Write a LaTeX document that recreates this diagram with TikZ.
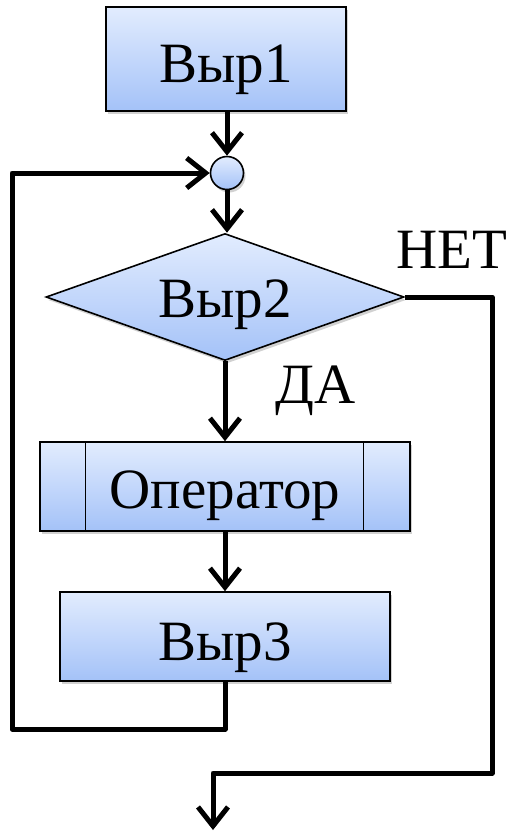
\documentclass[tikz,border=0pt]{standalone}
\usepackage{fontspec}
\setmainfont{Liberation Serif}
\usetikzlibrary{shapes.geometric,arrows.meta,shadows}
\definecolor{boxtop}{HTML}{E2ECFE}
\definecolor{boxbot}{HTML}{A4C2F8}
\tikzset{
  shade/.style={draw=black, line width=1.6pt, top color=boxtop, bottom color=boxbot,
    drop shadow={shadow xshift=2pt, shadow yshift=-3pt, opacity=0.3, fill=black!60}},
  box/.style={shade, rectangle, inner sep=0pt},
  dec/.style={shade, diamond, inner sep=0pt},
  joint/.style={shade, circle, inner sep=0pt, minimum size=33pt},
  txt/.style={inner sep=0pt, anchor=base, font=\fontsize{57}{60}\selectfont},
  flow/.style={line width=5pt, line join=round, -{Straight Barb[length=19pt,width=30pt,line width=5pt]}},
}
\begin{document}
\begin{tikzpicture}[x=1pt,y=-1pt]
\useasboundingbox (0,0) rectangle (509,831);
% nodes
\node[box, minimum width=240pt, minimum height=104pt] (b1) at (226,59) {};
\node[txt] (t1) at ([yshift=-23pt]b1.center) {Выр1};
\node[joint] (c) at (227,173) {};
\node[dec, minimum width=358pt, minimum height=127pt] (d) at (225,297) {};
\node[txt] (t2) at ([yshift=-20pt]d.center) {Выр2};
\node[box, minimum width=370pt, minimum height=89pt] (op) at (225,486.5) {};
\draw[line width=1.2pt] ([xshift=46pt]op.north west) -- ([xshift=46pt]op.south west);
\draw[line width=1.2pt] ([xshift=-47pt]op.north east) -- ([xshift=-47pt]op.south east);
\node[txt] (t3) at ([yshift=-21.5pt]op.center) {Оператор};
\node[box, minimum width=330pt, minimum height=89pt] (b3) at (225,636.5) {};
\node[txt] (t4) at ([yshift=-23.5pt]b3.center) {Выр3};
\node[txt] (no) at (452,268) {НЕТ};
\node[txt] (yes) at (316,403) {ДА};
% coordinates
\coordinate (lb) at (12,729);
\coordinate (nr) at (492,773);
\coordinate (out) at (213,830);
% connectors
\draw[flow] (c.north |- b1.south) -- (c.north);
\draw[flow] (c.south) -- (c.south |- d.north);
\draw[flow] (d.south) -- (d.south |- op.north);
\draw[flow] (op.south) -- (b3.north);
\draw[flow] (b3.south) |- (lb) |- (c.west);
\draw[flow] (d.east) -| (nr) -| (out);
\end{tikzpicture}
\end{document}
